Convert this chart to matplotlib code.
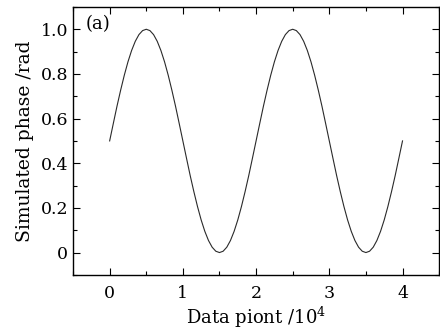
import numpy as np
import matplotlib
matplotlib.use('Agg')
import matplotlib.pyplot as plt
from matplotlib.ticker import MultipleLocator, FuncFormatter

# data (x in units of 10^4 points)
phase = [0.500, 0.578, 0.655, 0.727, 0.794, 0.854, 0.905, 0.946, 0.976, 0.994,
         1.000, 0.994, 0.976, 0.946, 0.905, 0.854, 0.794, 0.727, 0.655, 0.578,
         0.500, 0.422, 0.345, 0.273, 0.206, 0.146, 0.095, 0.054, 0.024, 0.006,
         0.000, 0.006, 0.024, 0.054, 0.095, 0.146, 0.206, 0.273, 0.345, 0.422,
         0.500, 0.578, 0.655, 0.727, 0.794, 0.854, 0.905, 0.946, 0.976, 0.994,
         1.000, 0.994, 0.976, 0.946, 0.905, 0.854, 0.794, 0.727, 0.655, 0.578,
         0.500, 0.422, 0.345, 0.273, 0.206, 0.146, 0.095, 0.054, 0.024, 0.006,
         0.000, 0.006, 0.024, 0.054, 0.095, 0.146, 0.206, 0.273, 0.345, 0.422,
         0.500]
x_start, x_end = 0.0, 4.0
xtick_vals = [0, 1, 2, 3, 4]
ytick_vals = [0, 0.2, 0.4, 0.6, 0.8, 1.0]

plt.rcParams['font.family'] = ['DejaVu Serif']
plt.rcParams['mathtext.fontset'] = 'dejavuserif'

fig = plt.figure(figsize=(4.4, 3.3), dpi=100)
ax = fig.add_axes([0.166, 0.167, 0.832, 0.812])

x = np.linspace(x_start, x_end, len(phase))
ax.plot(x, phase, color='#2a2a2a', lw=0.8)

ax.set_xlim(-0.5, 4.5)
ax.set_ylim(-0.1, 1.1)
ax.set_xticks(xtick_vals)
ax.set_yticks(ytick_vals)
ax.xaxis.set_minor_locator(MultipleLocator(0.5))
ax.yaxis.set_minor_locator(MultipleLocator(0.1))
ax.xaxis.set_major_formatter(FuncFormatter(lambda v, p: '%d' % v))
ax.yaxis.set_major_formatter(FuncFormatter(lambda v, p: '0' if abs(v) < 1e-9 else '%.1f' % v))
ax.tick_params(which='both', direction='in', top=True, right=True, labelsize=12.5, width=0.8)
ax.tick_params(which='major', length=5)
ax.tick_params(which='minor', length=3)
ax.tick_params(axis='x', pad=7)
for s in ax.spines.values():
    s.set_linewidth(1.0)

ax.set_xlabel('Data piont /10$^{\\mathregular{4}}$', fontsize=13, labelpad=2)
ax.set_ylabel('Simulated phase /rad', fontsize=13.5, labelpad=5)
ax.text(0.035, 0.97, '(a)', transform=ax.transAxes, ha='left', va='top', fontsize=13)

fig.savefig('out.png', dpi=100)
